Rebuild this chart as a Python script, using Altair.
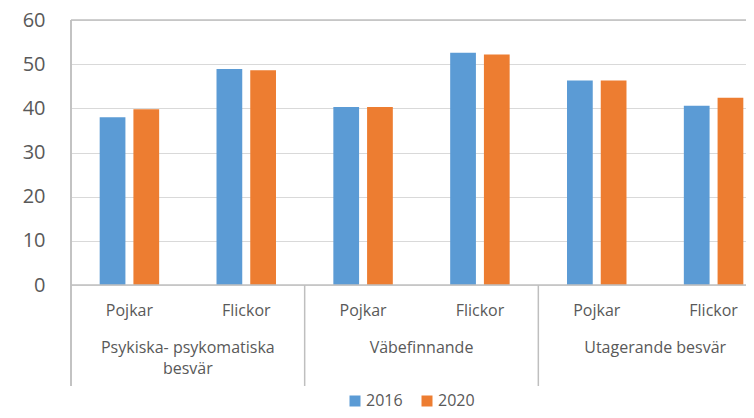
import altair as alt
import pandas as pd

# ---- data ----
groups = ["Psykiska-  psykomatiska\nbesvär", "Väbefinnande", "Utagerande besvär"]
sexes = ["Pojkar", "Flickor"]
years = ["2016", "2020"]
v2016 = [38.0, 48.9, 40.3, 52.6, 46.3, 40.6]
v2020 = [39.8, 48.6, 40.3, 52.2, 46.3, 42.4]
y_ticks = [0, 10, 20, 30, 40, 50, 60]
frame_values = [0, 60]

keys = [f"{g}-{s}" for g in range(len(groups)) for s in sexes]
sex_of_key = [s for g in range(len(groups)) for s in sexes]

rows = []
for i, k in enumerate(keys):
    rows.append({"key": k, "year": years[0], "value": v2016[i]})
    rows.append({"key": k, "year": years[1], "value": v2020[i]})
bar_df = pd.DataFrame(rows)

sex_df = pd.DataFrame({"key": keys, "sex": sex_of_key})
group_df = pd.DataFrame({"key": [keys[2 * g + 1] for g in range(len(groups))], "group": groups})
divider_df = pd.DataFrame({"key": [keys[2 * g] for g in range(1, len(groups))]})
frame_df = pd.DataFrame({"value": frame_values})

W, H = 675, 265
GRAY = "#595959"
LINE = "#BFBFBF"
FONT = "Open Sans"


def xscale():
    return alt.Scale(domain=keys, range=[0, 701], paddingInner=0, paddingOuter=0)


yscale = alt.Scale(domain=[0, 60])

bars = alt.Chart(bar_df).mark_bar().encode(
    x=alt.X("key:N", scale=xscale(), axis=None),
    xOffset=alt.XOffset("year:N", scale=alt.Scale(domain=years, paddingInner=0.237, paddingOuter=0.85)),
    y=alt.Y(
        "value:Q",
        scale=yscale,
        axis=alt.Axis(
            values=y_ticks, grid=True, gridColor="#D9D9D9", gridWidth=1,
            domain=False, ticks=False, labelPadding=26, labelFontSize=20,
            labelFont=FONT, labelColor=GRAY, title=None,
        ),
    ),
    color=alt.Color(
        "year:N",
        scale=alt.Scale(domain=years, range=["#5B9BD5", "#ED7D31"]),
        legend=alt.Legend(
            title=None, orient="none", legendX=276, legendY=373, direction="horizontal",
            symbolType="square", symbolSize=121, symbolStrokeWidth=0,
            labelFont=FONT, labelFontSize=16, labelColor=GRAY,
            columnPadding=16, labelOffset=3, padding=0,
        ),
    ),
)

frame = alt.Chart(frame_df).mark_rule(color=LINE, strokeWidth=1.5).encode(
    y=alt.Y("value:Q", scale=yscale)
)

left_line = alt.Chart(frame_df).mark_rule(color=LINE, strokeWidth=1.5).encode(
    x=alt.value(0), y=alt.value(0), y2=alt.value(366)
)

dividers = alt.Chart(divider_df).mark_rule(color=LINE, strokeWidth=1.5).encode(
    x=alt.X("key:N", scale=xscale(), axis=None, bandPosition=0),
    y=alt.value(H), y2=alt.value(366),
)

sex_text = alt.Chart(sex_df).mark_text(
    font=FONT, fontSize=16, color=GRAY, baseline="middle", align="center"
).encode(
    x=alt.X("key:N", scale=xscale(), axis=None),
    y=alt.value(290.5),
    text="sex:N",
)

group_text = alt.Chart(group_df).mark_text(
    font=FONT, fontSize=16, color=GRAY, baseline="top", align="center",
    lineBreak="\n", lineHeight=21,
).encode(
    x=alt.X("key:N", scale=xscale(), axis=None, bandPosition=0),
    y=alt.value(320),
    text="group:N",
)

chart = alt.layer(bars, frame, left_line, dividers, sex_text, group_text).properties(
    width=W, height=H,
    autosize=alt.AutoSizeParams(type="none"),
    padding={"left": 63, "top": 12, "right": 0, "bottom": 125},
).configure_view(stroke=None)

chart.save("out.html", embed_options={"renderer": "svg", "actions": False})
